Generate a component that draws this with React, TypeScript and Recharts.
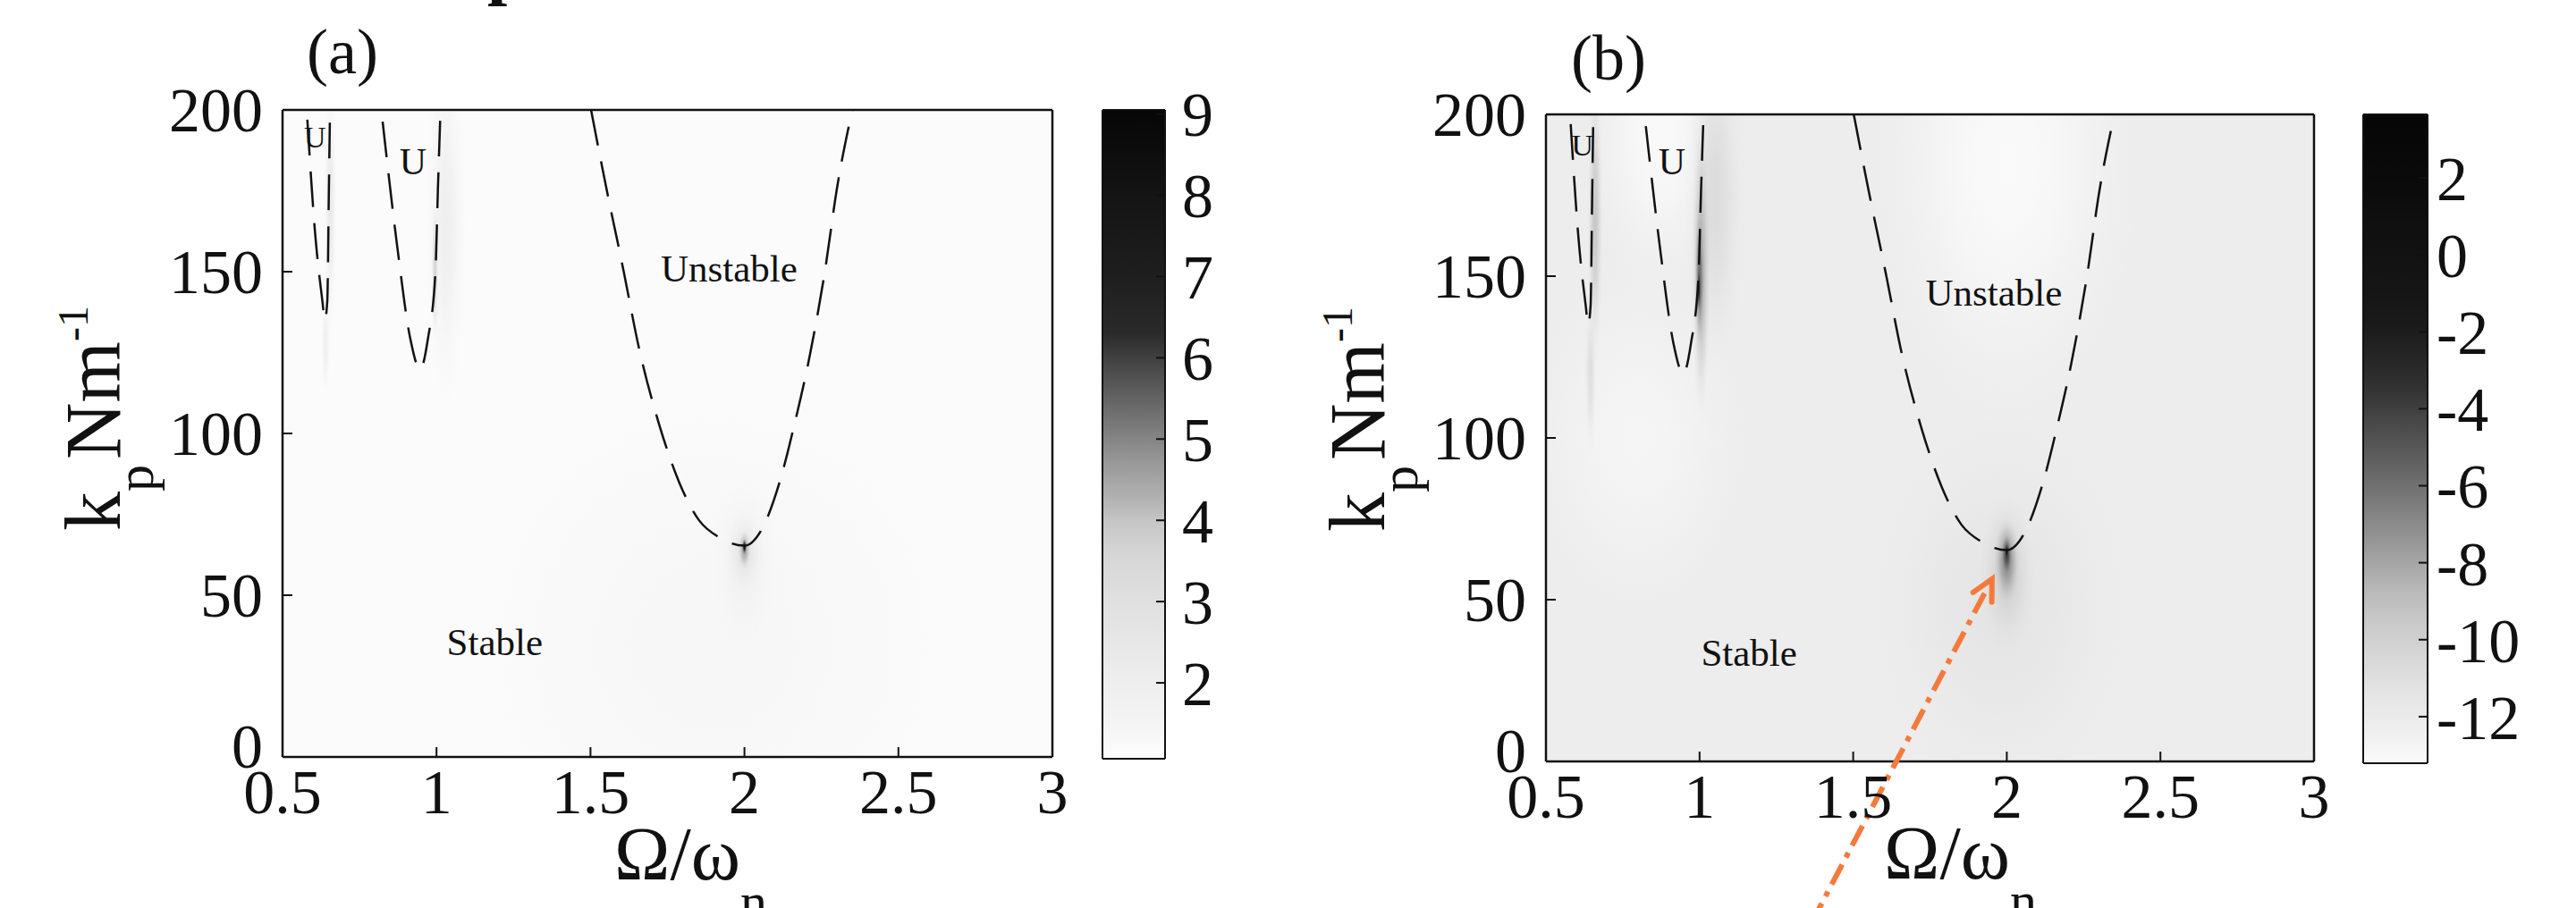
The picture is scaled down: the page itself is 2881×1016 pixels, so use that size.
import React from "react"
import {
  ComposedChart,
  Line,
  Scatter,
  XAxis,
  YAxis,
  CartesianGrid,
  ReferenceDot,
  ReferenceLine,
} from "recharts"

const SERIF = '"Liberation Serif", "Times New Roman", Times, serif'
const INK = "#111"
const ARROW = "#f47a3c"

// axes
const OMEGA_TICKS = [0.5, 1, 1.5, 2, 2.5, 3]
const KP_TICKS = [0, 50, 100, 150, 200]

// dashed stability boundaries (same in both maps): x = Ω/ωn, y = kp
const TONGUE_1 = [
  { x: 0.5805, y: 197.0 }, { x: 0.6047, y: 163.1 }, { x: 0.6294, y: 140.9 },
  { x: 0.6375, y: 135.1 }, { x: 0.6453, y: 140.9 }, { x: 0.6506, y: 176.2 },
  { x: 0.6541, y: 199.6 },
]
const TONGUE_2 = [
  { x: 0.825, y: 196.4 }, { x: 0.874, y: 156.6 }, { x: 0.915, y: 129.2 },
  { x: 0.947, y: 119.8 }, { x: 0.972, y: 129.2 }, { x: 0.9966, y: 150 },
  { x: 1.0047, y: 176.1 }, { x: 1.0128, y: 199.6 },
]
const TONGUE_3 = [
  { x: 1.502, y: 199.9 }, { x: 1.551, y: 176.1 }, { x: 1.608, y: 150 },
  { x: 1.657, y: 126.6 }, { x: 1.722, y: 103.1 }, { x: 1.788, y: 84.9 },
  { x: 1.853, y: 73.1 }, { x: 1.918, y: 67.9 }, { x: 1.9997, y: 65.3 },
  { x: 2.057, y: 70.5 }, { x: 2.114, y: 84.9 }, { x: 2.163, y: 103.1 },
  { x: 2.212, y: 124 }, { x: 2.261, y: 150 }, { x: 2.301, y: 176.1 },
  { x: 2.35, y: 199.9 },
]

// map (a): background level and smooth features (v = value, sx/sy = half spread in Ω and kp)
const BG_A = 1.15
const SPOTS_A = [
  { x: 1.9, y: 35, v: 1.35, sx: 0.95, sy: 95 },
  { x: 1.03, y: 165, v: 1.9, sx: 0.07, sy: 60 },
  { x: 0.995, y: 150, v: 3.6, sx: 0.012, sy: 22 },
  { x: 0.655, y: 170, v: 2.3, sx: 0.022, sy: 40 },
  { x: 0.64, y: 128, v: 1.9, sx: 0.015, sy: 18 },
  { x: 2.0, y: 60, v: 1.8, sx: 0.12, sy: 30 },
  { x: 2.0, y: 63, v: 2.6, sx: 0.06, sy: 12 },
  { x: 2.0, y: 64, v: 4.5, sx: 0.02, sy: 6 },
  { x: 2.0, y: 65, v: 9, sx: 0.008, sy: 2.5 },
]

// map (b)
const BG_B = -12.2
const SPOTS_B = [
  { x: 1.98, y: 48, v: -11.5, sx: 0.45, sy: 62 },
  { x: 2.0, y: 185, v: -13.2, sx: 0.45, sy: 85 },
  { x: 0.87, y: 195, v: -13.1, sx: 0.25, sy: 55 },
  { x: 0.8, y: 100, v: -12.8, sx: 0.4, sy: 60 },
  { x: 1.05, y: 175, v: -10.8, sx: 0.1, sy: 55 },
  { x: 1.005, y: 152, v: -8.5, sx: 0.03, sy: 45 },
  { x: 1.0, y: 150, v: -6, sx: 0.015, sy: 20 },
  { x: 0.998, y: 146, v: -2.5, sx: 0.006, sy: 7 },
  { x: 0.66, y: 168, v: -9.5, sx: 0.025, sy: 45 },
  { x: 0.645, y: 120, v: -11, sx: 0.02, sy: 25 },
  { x: 2.0, y: 58, v: -10, sx: 0.09, sy: 24 },
  { x: 2.0, y: 62, v: -7, sx: 0.04, sy: 13 },
  { x: 2.0, y: 64, v: -4, sx: 0.016, sy: 6 },
  { x: 2.0, y: 65, v: 1, sx: 0.006, sy: 2 },
]

// region names
const LABELS_A = [
  { x: 0.605, y: 191.7, text: "U" },
  { x: 0.924, y: 184, text: "U" },
  { x: 1.95, y: 151, text: "Unstable" },
  { x: 1.189, y: 35.4, text: "Stable" },
]
const LABELS_B = [
  { x: 0.619, y: 190.6, text: "U" },
  { x: 0.91, y: 185.4, text: "U" },
  { x: 1.958, y: 144.8, text: "Unstable" },
  { x: 1.161, y: 33.7, text: "Stable" },
]
const LABEL_SIZES = [34, 42, 43, 43]

// orange pointer in (b): tail, head
const ARROW_B = [{ x: 1.364, y: -50 }, { x: 1.952, y: 56.4 }]

// colour bars
const CBAR_A_TICKS = [2, 3, 4, 5, 6, 7, 8, 9]
const CBAR_A_RANGE = [1.066, 9.05]
const CBAR_B_TICKS = [-12, -10, -8, -6, -4, -2, 0, 2]
const CBAR_B_RANGE = [-13.21, 3.65]

// grey maps (value -> grey level)
const CMAP_A_VALUES = [1.066, 1.45, 2, 2.4, 3, 3.6, 4, 4.3, 4.7, 5, 5.4, 5.7, 6, 6.3, 7, 8, 9.05]
const CMAP_A_GREYS = [253, 245, 238, 232, 224, 213, 197, 176, 153, 133, 106, 85, 64, 42, 30, 20, 6]
const CMAP_B_VALUES = [-13.21, -12.3, -11.4, -10.5, -9.6, -8.7, -7.8, -6.9, -6.0, -5.1, -4.2, -3.6, -2.7, -1.8, -0.9, 0.6, 2.1, 3.65]
const CMAP_B_GREYS = [250, 238, 228, 216, 202, 184, 160, 136, 112, 90, 69, 53, 38, 26, 21, 16, 10, 5]

function grey(v: number, vals: number[], greys: number[]) {
  let g = greys[0]
  if (v >= vals[vals.length - 1]) g = greys[greys.length - 1]
  else if (v > vals[0]) {
    for (let i = 0; i < vals.length - 1; i++) {
      if (v <= vals[i + 1]) {
        const t = (v - vals[i]) / (vals[i + 1] - vals[i])
        g = greys[i] + t * (greys[i + 1] - greys[i])
        break
      }
    }
  }
  const n = Math.round(g)
  return `rgb(${n},${n},${n})`
}

const FALLOFF = [
  [0, 1],
  [0.2, 0.92],
  [0.4, 0.68],
  [0.6, 0.36],
  [0.8, 0.11],
  [1, 0],
]

function spotShape(tag: string, vals: number[], greys: number[], pxX: number, pxY: number) {
  return (p: any) => {
    const { cx, cy, payload } = p
    if (!payload || !Number.isFinite(cx) || !Number.isFinite(cy)) return <g />
    const rx = payload.sx * pxX
    const ry = payload.sy * pxY
    const id = `${tag}-${Math.round(cx)}-${Math.round(cy)}-${Math.round(rx)}`
    const c = grey(payload.v, vals, greys)
    return (
      <g>
        <defs>
          <radialGradient id={id} cx="50%" cy="50%" r="50%">
            {FALLOFF.map(([o, a]) => (
              <stop key={o} offset={o} stopColor={c} stopOpacity={a} />
            ))}
          </radialGradient>
        </defs>
        <ellipse cx={cx} cy={cy} rx={rx} ry={ry} fill={`url(#${id})`} />
      </g>
    )
  }
}

function ArrowShape(p: any) {
  const { x1, y1, x2, y2 } = p
  if (![x1, y1, x2, y2].every(Number.isFinite)) return <g />
  const a = Math.atan2(y2 - y1, x2 - x1)
  const len = 26
  const spread = 0.47
  const ax = x2 - len * Math.cos(a - spread)
  const ay = y2 - len * Math.sin(a - spread)
  const bx = x2 - len * Math.cos(a + spread)
  const by = y2 - len * Math.sin(a + spread)
  const sx = x2 - 18 * Math.cos(a)
  const sy = y2 - 18 * Math.sin(a)
  return (
    <g>
      <line x1={x1} y1={y1} x2={sx} y2={sy} stroke={ARROW} strokeWidth={6} strokeDasharray="25 9 6 9" />
      <polyline
        points={`${ax},${ay} ${x2},${y2} ${bx},${by}`}
        fill="none"
        stroke={ARROW}
        strokeWidth={6}
        strokeLinecap="round"
      />
    </g>
  )
}

// y tick labels; the 0 sits a little high, as in the original
function KpTick(p: any) {
  const v = p.payload?.value
  return (
    <text
      x={p.x}
      y={p.y - (v === 0 ? 12 : 0)}
      textAnchor="end"
      dominantBaseline="central"
      fontFamily={SERIF}
      fontSize={70}
      fill={INK}
    >
      {v}
    </text>
  )
}

const PLOT_LEFT = 316
const PLOT_TOP = 123
const PLOT_H = 724

function Panel({
  left,
  top,
  width,
  tag,
  bg,
  spots,
  labels,
  vals,
  greys,
  title,
  titleX,
  titleY,
  xLabelX,
  xLabelY,
  yLabelX,
  yLabelY,
  arrow,
  cut,
}: any) {
  const plotW = width - 13 - 10 - PLOT_LEFT
  const pxX = plotW / 2.5
  const pxY = PLOT_H / 200
  const axisStyle = { fontSize: 70, fontFamily: SERIF, fill: INK }

  return (
    <div style={{ position: "absolute", left, top }}>
      <ComposedChart width={width} height={1016} margin={{ top: PLOT_TOP - 10, right: 13, bottom: 89, left: PLOT_LEFT - 100 }}>
        <CartesianGrid horizontal={false} vertical={false} fill={grey(bg, vals, greys)} fillOpacity={1} />
        <XAxis
          dataKey="x"
          type="number"
          domain={[0.5, 3]}
          ticks={OMEGA_TICKS}
          allowDataOverflow
          height={80}
          tickSize={-11}
          tickMargin={24}
          stroke={INK}
          tick={axisStyle}
          axisLine={{ stroke: INK, strokeWidth: 2.5 }}
          tickLine={{ stroke: INK, strokeWidth: 2 }}
          label={{
            content: () => (
              <text x={PLOT_LEFT + xLabelX} y={xLabelY} fontFamily={SERIF} fontSize={84} fill={INK}>
                Ω/ω
                <tspan fontSize={60} dy={45}>n</tspan>
              </text>
            ),
          }}
        />
        <XAxis
          xAxisId="top"
          orientation="top"
          type="number"
          domain={[0.5, 3]}
          ticks={OMEGA_TICKS}
          allowDataOverflow
          height={10}
          tick={false}
          tickSize={-10}
          stroke={INK}
          axisLine={{ stroke: INK, strokeWidth: 2.5 }}
          tickLine={{ stroke: INK, strokeWidth: 2 }}
          label={{
            content: () => (
              <g>
                {cut ? (
                  <text x={545} y={-10} fontFamily={SERIF} fontSize={80} fontWeight="bold" fill={INK}>
                    p
                  </text>
                ) : null}
                <text x={titleX} y={titleY} fontFamily={SERIF} fontSize={72} fill={INK}>
                  {title}
                </text>
              </g>
            ),
          }}
        />
        <YAxis
          dataKey="y"
          type="number"
          domain={[0, 200]}
          ticks={KP_TICKS}
          allowDataOverflow
          width={100}
          tickSize={-11}
          tickMargin={33}
          stroke={INK}
          tick={KpTick}
          axisLine={{ stroke: INK, strokeWidth: 2.5 }}
          tickLine={{ stroke: INK, strokeWidth: 2 }}
          label={{
            content: () => (
              <text
                transform={`rotate(-90 ${yLabelX} ${yLabelY})`}
                x={yLabelX}
                y={yLabelY}
                fontFamily={SERIF}
                fill={INK}
              >
                <tspan fontSize={88}>k</tspan>
                <tspan fontSize={60} dy={37}>p</tspan>
                <tspan fontSize={88} dy={-37} dx={6}>Nm</tspan>
                <tspan fontSize={48} dy={-36}>-1</tspan>
              </text>
            ),
          }}
        />
        <YAxis
          yAxisId="right"
          orientation="right"
          type="number"
          domain={[0, 200]}
          ticks={KP_TICKS}
          allowDataOverflow
          width={10}
          tick={false}
          tickSize={-11}
          stroke={INK}
          axisLine={{ stroke: INK, strokeWidth: 2.5 }}
          tickLine={{ stroke: INK, strokeWidth: 2 }}
        />

        <Scatter
          data={spots}
          shape={spotShape(tag, vals, greys, pxX, pxY)}
          isAnimationActive={false}
          zIndex={50}
        />

        {[TONGUE_1, TONGUE_2, TONGUE_3].map((d, i) => (
          <Line
            key={i}
            data={d}
            dataKey="y"
            type="monotone"
            stroke={INK}
            strokeWidth={2.5}
            strokeDasharray="40 18"
            dot={false}
            activeDot={false}
            isAnimationActive={false}
            zIndex={400}
          />
        ))}

        {labels.map((l: any, i: number) => (
          <ReferenceDot
            key={i}
            x={l.x}
            y={l.y}
            r={1}
            ifOverflow="visible"
            zIndex={650}
            shape={(p: any) => (
              <text
                x={p.cx}
                y={p.cy}
                textAnchor="middle"
                dominantBaseline="central"
                fontFamily={SERIF}
                fontSize={LABEL_SIZES[i]}
                fill={INK}
              >
                {l.text}
              </text>
            )}
          />
        ))}

        {arrow ? (
          <ReferenceLine segment={arrow} ifOverflow="visible" shape={ArrowShape} zIndex={900} />
        ) : null}
      </ComposedChart>
    </div>
  )
}

function ColorBar({ left, top, width, margin, range, ticks, gradId, rightW, gap }: any) {
  return (
    <div style={{ position: "absolute", left, top }}>
      <ComposedChart width={width} height={1016} margin={margin}>
        <CartesianGrid horizontal={false} vertical={false} fill={`url(#${gradId})`} fillOpacity={1} />
        <XAxis
          type="number"
          domain={[0, 1]}
          allowDataOverflow
          height={1}
          tick={false}
          tickLine={false}
          axisLine={{ stroke: INK, strokeWidth: 2 }}
        />
        <XAxis
          xAxisId="top"
          orientation="top"
          type="number"
          domain={[0, 1]}
          allowDataOverflow
          height={1}
          tick={false}
          tickLine={false}
          axisLine={{ stroke: INK, strokeWidth: 2 }}
        />
        <YAxis
          yAxisId="l"
          type="number"
          domain={range}
          ticks={ticks}
          allowDataOverflow
          width={10}
          tick={false}
          tickSize={-10}
          stroke={INK}
          axisLine={{ stroke: INK, strokeWidth: 2 }}
          tickLine={{ stroke: INK, strokeWidth: 2 }}
        />
        <YAxis
          yAxisId="r"
          orientation="right"
          type="number"
          domain={range}
          ticks={ticks}
          allowDataOverflow
          width={rightW}
          tickSize={-10}
          tickMargin={10 + gap}
          stroke={INK}
          tick={{ fontSize: 70, fontFamily: SERIF, fill: INK }}
          axisLine={{ stroke: INK, strokeWidth: 2 }}
          tickLine={{ stroke: INK, strokeWidth: 2 }}
        />
      </ComposedChart>
    </div>
  )
}

function gradientStops(range: number[], vals: number[], greys: number[]) {
  const [lo, hi] = range
  return vals
    .map((v, i) => ({ off: Math.min(1, Math.max(0, (hi - v) / (hi - lo))), c: grey(v, vals, greys), i }))
    .sort((a, b) => a.off - b.off)
    .map((s) => <stop key={s.i} offset={s.off} stopColor={s.c} />)
}

export default function App() {
  return (
    <div
      style={{
        position: "absolute",
        left: 0,
        top: 0,
        width: 2881,
        height: 1016,
        background: "#fff",
        overflow: "hidden",
      }}
    >
      <svg width={1} height={1} style={{ position: "absolute", left: 0, top: 0 }}>
        <defs>
          <linearGradient id="cbarA" x1="0" y1="0" x2="0" y2="1">
            {gradientStops(CBAR_A_RANGE, CMAP_A_VALUES, CMAP_A_GREYS)}
          </linearGradient>
          <linearGradient id="cbarB" x1="0" y1="0" x2="0" y2="1">
            {gradientStops(CBAR_B_RANGE, CMAP_B_VALUES, CMAP_B_GREYS)}
          </linearGradient>
        </defs>
      </svg>

      <Panel
        left={0}
        top={0}
        width={1200}
        tag="a"
        bg={BG_A}
        spots={SPOTS_A}
        labels={LABELS_A}
        vals={CMAP_A_VALUES}
        greys={CMAP_A_GREYS}
        title="(a)"
        titleX={343}
        titleY={82}
        xLabelX={371}
        xLabelY={984}
        yLabelX={134}
        yLabelY={594}
        cut
      />
      <ColorBar
        left={1140}
        top={0}
        width={240}
        margin={{ top: 122, bottom: 166, left: 83, right: 7 }}
        range={CBAR_A_RANGE}
        ticks={CBAR_A_TICKS}
        gradId="cbarA"
        rightW={70}
        gap={19}
      />

      <Panel
        left={1413}
        top={5}
        width={1198}
        tag="b"
        bg={BG_B}
        spots={SPOTS_B}
        labels={LABELS_B}
        vals={CMAP_B_VALUES}
        greys={CMAP_B_GREYS}
        title="(b)"
        titleX={344}
        titleY={84}
        xLabelX={378}
        xLabelY={978}
        yLabelX={135}
        yLabelY={590}
        arrow={ARROW_B}
      />
      <ColorBar
        left={2550}
        top={0}
        width={331}
        margin={{ top: 127, bottom: 161, left: 83, right: 46 }}
        range={CBAR_B_RANGE}
        ticks={CBAR_B_TICKS}
        gradId="cbarB"
        rightW={120}
        gap={10}
      />
    </div>
  )
}
